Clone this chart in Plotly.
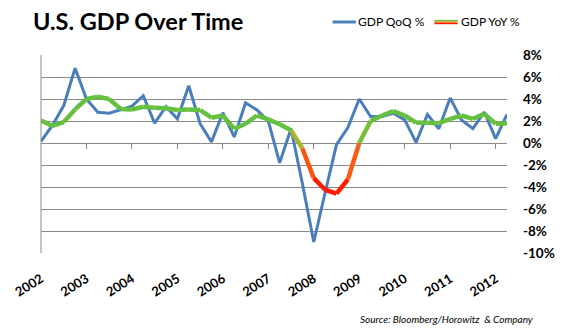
import plotly.graph_objects as go

# ---- data ----
YEARS = [str(y) for y in range(2002, 2013)]
QUARTER_INDEX = list(range(42))  # 2002Q1 .. 2012Q2
GDP_QOQ = [0.15, 1.6, 3.4, 6.8, 4.0, 2.8, 2.7, 3.05, 3.35, 4.3,
           1.8, 3.3, 2.2, 5.2, 1.75, 0.1, 2.75, 0.55, 3.65, 3.0,
           2.0, -1.8, 1.3, -3.7, -9.0, -4.5, -0.15, 1.4, 4.0, 2.4,
           2.4, 2.7, 2.1, 0.05, 2.6, 1.3, 4.1, 2.1, 1.3, 2.8,
           0.4, 2.6]
GDP_YOY = [2.05, 1.55, 1.9, 3.05, 4.0, 4.2, 4.0, 3.1, 3.05, 3.3,
           3.2, 3.15, 3.0, 3.05, 3.0, 2.3, 2.5, 1.3, 1.75, 2.5,
           2.15, 1.7, 1.15, -0.5, -3.2, -4.25, -4.6, -3.3, 0.0, 2.0,
           2.5, 2.9, 2.5, 1.85, 1.85, 1.8, 2.2, 2.5, 2.2, 2.65,
           1.75, 1.8]
Y_TICKS = [-10, -8, -6, -4, -2, 0, 2, 4, 6, 8]

W, H = 567, 331
L, R, T, B = 32, 54, 55, 78
PW, PH = W - L - R, H - T - B
YMIN, YMAX = -10, 8

def px_x(px):
    return (px - L) / PW

def px_y(py):
    return (H - B - py) / PH

BLUE = "#4A7EBB"
GRID = "#8A8A8A"
FONT = "Lato"

def lerp(c1, c2, t):
    t = max(0.0, min(1.0, t))
    a = [int(c1[i:i + 2], 16) for i in (1, 3, 5)]
    b = [int(c2[i:i + 2], 16) for i in (1, 3, 5)]
    return "#%02x%02x%02x" % tuple(round(a[k] + (b[k] - a[k]) * t) for k in range(3))

GREEN, OLIVE, ORANGE, RED = "#66C040", "#A9B632", "#F7891E", "#FF1A00"

def yoy_color(v):
    if v >= 1.2:
        return GREEN
    if v >= 0.3:
        return lerp(GREEN, OLIVE, (1.2 - v) / 0.9)
    if v >= -0.6:
        return lerp(OLIVE, ORANGE, (0.3 - v) / 0.9)
    if v >= -3.2:
        return lerp(ORANGE, RED, (-0.6 - v) / 2.6)
    return RED

fig = go.Figure()
fig.add_trace(go.Scatter(x=QUARTER_INDEX, y=GDP_QOQ, mode="lines", name="GDP QoQ %",
                         line=dict(color=BLUE, width=3), showlegend=False,
                         hoverinfo="skip"))
for i in range(len(GDP_YOY) - 1):
    v = (GDP_YOY[i] + GDP_YOY[i + 1]) / 2
    fig.add_trace(go.Scatter(x=QUARTER_INDEX[i:i + 2], y=GDP_YOY[i:i + 2], mode="lines",
                             name="GDP YoY %", line=dict(color=yoy_color(v), width=4.5),
                             showlegend=False, hoverinfo="skip"))
# dummy trace so the tick-mark axis on the 0% line is drawn
fig.add_trace(go.Scatter(x=[0], y=[None], xaxis="x2", showlegend=False, hoverinfo="skip"))

fig.update_layout(
    width=W, height=H, margin=dict(l=L, r=R, t=T, b=B),
    paper_bgcolor="white", plot_bgcolor="white",
    font=dict(family=FONT, color="black"),
    xaxis=dict(range=[0, len(QUARTER_INDEX) - 1], tickmode="array",
               tickvals=QUARTER_INDEX[::4], ticktext=YEARS,
               tickangle=-32, ticks="", showgrid=False, zeroline=False, showline=False,
               tickfont=dict(family=FONT, size=13, color="black", weight="bold"),
               ticklabelstandoff=15),
    xaxis2=dict(range=[0, len(QUARTER_INDEX) - 1], overlaying="x", anchor="free",
                position=(0 - YMIN) / (YMAX - YMIN), tickmode="array",
                tickvals=QUARTER_INDEX[4::4], ticks="outside", ticklen=5,
                tickcolor=GRID, tickwidth=1, showticklabels=False,
                showgrid=False, zeroline=False, showline=False),
    yaxis=dict(range=[YMIN, YMAX], side="right", tickmode="array", tickvals=Y_TICKS,
               ticktext=[f"{t}%" for t in Y_TICKS], showgrid=True, gridcolor=GRID,
               gridwidth=1, zeroline=False, showline=False, ticks="",
               ticklabelstandoff=15,
               tickfont=dict(family=FONT, size=13.5, color="black", weight="bold")),
    shapes=[
        dict(type="line", xref="x domain", yref="y domain", x0=0, x1=0, y0=0, y1=1,
             line=dict(color=GRID, width=1)),
        dict(type="line", xref="paper", yref="paper", x0=px_x(333), x1=px_x(357),
             y0=px_y(22), y1=px_y(22), line=dict(color=BLUE, width=3)),
        dict(type="line", xref="paper", yref="paper", x0=px_x(438), x1=px_x(462),
             y0=px_y(20.7), y1=px_y(20.7), line=dict(color=GREEN, width=1.6)),
        dict(type="line", xref="paper", yref="paper", x0=px_x(438), x1=px_x(462),
             y0=px_y(22.2), y1=px_y(22.2), line=dict(color=ORANGE, width=1.4)),
        dict(type="line", xref="paper", yref="paper", x0=px_x(438), x1=px_x(462),
             y0=px_y(23.5), y1=px_y(23.5), line=dict(color=RED, width=1.4)),
    ],
    annotations=[
        dict(text="<b>U.S. GDP Over Time</b>", xref="paper", yref="paper",
             x=px_x(22), y=px_y(21), xanchor="left", yanchor="middle", showarrow=False,
             font=dict(family=FONT, size=23.5, color="black")),
        dict(text="GDP QoQ %", xref="paper", yref="paper", x=px_x(357), y=px_y(22),
             xanchor="left", yanchor="middle", showarrow=False,
             font=dict(family=FONT, size=12, color="black")),
        dict(text="GDP YoY %", xref="paper", yref="paper", x=px_x(463), y=px_y(22),
             xanchor="left", yanchor="middle", showarrow=False,
             font=dict(family=FONT, size=12, color="black")),
        dict(text="<i>Source: Bloomberg/Horowitz\u00a0 & Company</i>", xref="paper",
             yref="paper", x=px_x(359), y=px_y(319), xanchor="left", yanchor="middle",
             showarrow=False, font=dict(family=FONT, size=10, color="black")),
    ],
)

fig.write_html("out.html")
